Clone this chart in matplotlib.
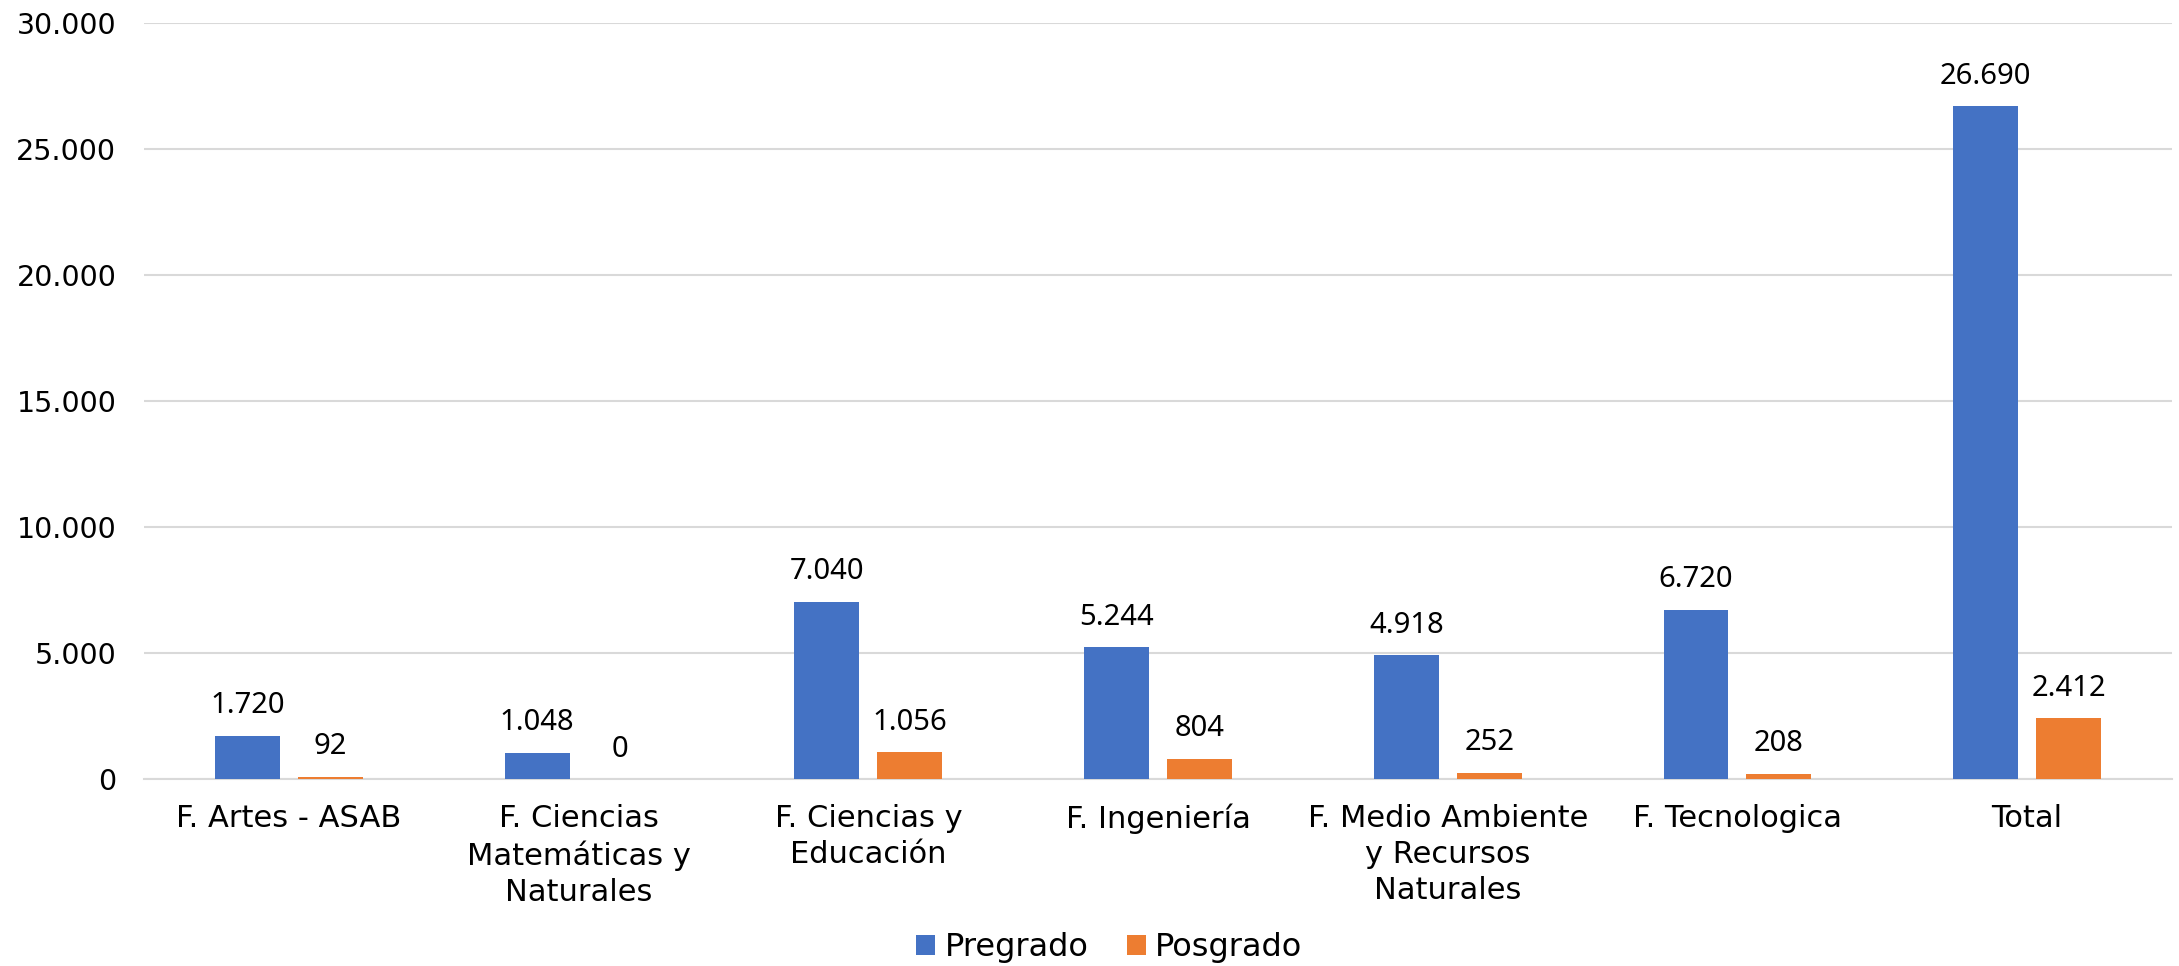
import numpy as np
import matplotlib
matplotlib.use('Agg')
import matplotlib.pyplot as plt
from matplotlib.ticker import FuncFormatter

plt.rcParams['font.family'] = ['DejaVu Sans']

categorias = ['F. Artes - ASAB', 'F. Ciencias\nMatemáticas y\nNaturales',
              'F. Ciencias y\nEducación', 'F. Ingeniería',
              'F. Medio Ambiente\ny Recursos\nNaturales', 'F. Tecnologica', 'Total']
pregrado = [1720, 1048, 7040, 5244, 4918, 6720, 26690]
posgrado = [92, 0, 1056, 804, 252, 208, 2412]

azul = '#4472C4'
naranja = '#ED7D31'


def miles(v, pos=None):
    return f'{v:,.0f}'.replace(',', '.')


fig = plt.figure(figsize=(21.79, 9.66), dpi=100)
ax = fig.add_axes([0.0661, 0.1936, 0.9307, 0.7826])

x = np.arange(len(categorias))
ancho = 0.224
sep = 0.143
b1 = ax.bar(x - sep, pregrado, ancho, color=azul, label='Pregrado', zorder=3)
b2 = ax.bar(x + sep, posgrado, ancho, color=naranja, label='Posgrado', zorder=3)

for barras in (b1, b2):
    ax.bar_label(barras, labels=[miles(v) for v in barras.datavalues],
                 padding=11, fontsize=21, family='Noto Sans', color='black')

ax.set_xlim(-0.5, len(categorias) - 0.5)
ax.set_ylim(0, 30000)
ax.set_yticks(np.arange(0, 30001, 5000))
ax.yaxis.set_major_formatter(FuncFormatter(miles))
ax.set_xticks(x)
ax.set_xticklabels(categorias, fontsize=22, linespacing=1.3)
ax.tick_params(axis='y', length=0, pad=20, labelsize=20.5)
ax.tick_params(axis='x', length=0, pad=18)

ax.grid(axis='y', color='#D9D9D9', linewidth=1.5, zorder=0)
for lado in ['top', 'right', 'left']:
    ax.spines[lado].set_visible(False)
ax.spines['bottom'].set_color('#D9D9D9')
ax.spines['bottom'].set_linewidth(1.5)

fig.legend(handles=[b1, b2], loc='center', bbox_to_anchor=(0.509, 0.019),
           ncol=2, frameon=False, fontsize=23, handlelength=0.6, handleheight=0.6,
           handletextpad=0.3, columnspacing=1.2)

fig.savefig('out.png', dpi=100)
